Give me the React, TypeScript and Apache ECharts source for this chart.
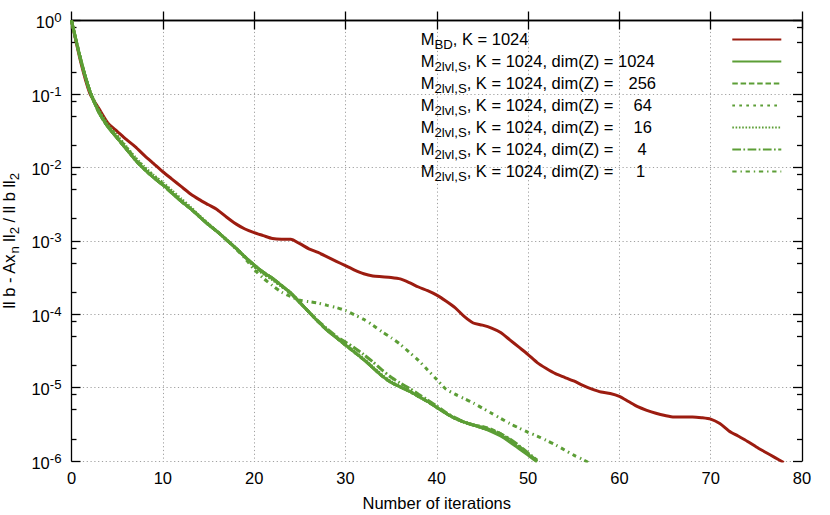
import React, { useEffect, useRef } from 'react';
import * as echarts from 'echarts';

// log10 of the relative residual ||b - Ax_n||_2 / ||b||_2, one value per iteration (0, 1, 2, ...)
const bdK1024 = [
  0, -0.56, -0.99, -1.20, -1.40, -1.51, -1.62, -1.72, -1.84, -1.95,
  -2.06, -2.16, -2.26, -2.36, -2.44, -2.51, -2.58, -2.68, -2.77, -2.84,
  -2.89, -2.93, -2.97, -2.98, -2.98, -3.04, -3.11, -3.16, -3.22, -3.28,
  -3.34, -3.40, -3.45, -3.48, -3.49, -3.50, -3.52, -3.57, -3.63, -3.68,
  -3.74, -3.82, -3.91, -4.03, -4.12, -4.15, -4.19, -4.25, -4.35, -4.45,
  -4.55, -4.66, -4.74, -4.81, -4.86, -4.91, -4.97, -5.02, -5.06, -5.08,
  -5.12, -5.19, -5.26, -5.31, -5.35, -5.38, -5.40, -5.40, -5.40, -5.41,
  -5.43, -5.49, -5.59, -5.66, -5.73, -5.81, -5.88, -5.95, -6.02,
];
const dim1024 = [
  0, -0.53, -0.96, -1.25, -1.45, -1.60, -1.75, -1.90, -2.03, -2.14,
  -2.24, -2.35, -2.46, -2.56, -2.67, -2.78, -2.88, -2.99, -3.10, -3.22,
  -3.33, -3.43, -3.51, -3.61, -3.71, -3.84, -3.97, -4.10, -4.22, -4.32,
  -4.42, -4.52, -4.62, -4.73, -4.84, -4.93, -4.99, -5.05, -5.12, -5.19,
  -5.27, -5.35, -5.42, -5.47, -5.51, -5.55, -5.60, -5.66, -5.74, -5.83,
  -5.92, -6.01,
];
const dim256 = [
  0, -0.53, -0.96, -1.25, -1.45, -1.60, -1.75, -1.90, -2.03, -2.14,
  -2.24, -2.35, -2.46, -2.56, -2.67, -2.78, -2.88, -2.99, -3.10, -3.22,
  -3.33, -3.43, -3.51, -3.61, -3.71, -3.84, -3.97, -4.10, -4.22, -4.32,
  -4.42, -4.52, -4.62, -4.73, -4.84, -4.93, -4.99, -5.05, -5.12, -5.19,
  -5.27, -5.35, -5.42, -5.47, -5.51, -5.53, -5.57, -5.63, -5.71, -5.80,
  -5.90, -6.00,
];
const dim64 = [
  0, -0.53, -0.96, -1.25, -1.43, -1.58, -1.73, -1.88, -2.01, -2.12,
  -2.22, -2.34, -2.45, -2.56, -2.67, -2.78, -2.88, -2.99, -3.10, -3.22,
  -3.34, -3.44, -3.52, -3.62, -3.72, -3.84, -3.97, -4.10, -4.22, -4.32,
  -4.42, -4.52, -4.62, -4.73, -4.84, -4.93, -4.99, -5.05, -5.12, -5.19,
  -5.27, -5.35, -5.42, -5.47, -5.51, -5.54, -5.58, -5.64, -5.72, -5.81,
  -5.91, -6.00,
];
const dim16 = [
  0, -0.52, -0.95, -1.22, -1.42, -1.57, -1.72, -1.87, -2.00, -2.11,
  -2.21, -2.32, -2.43, -2.54, -2.66, -2.77, -2.88, -2.99, -3.10, -3.22,
  -3.35, -3.45, -3.53, -3.62, -3.71, -3.84, -3.97, -4.10, -4.21, -4.31,
  -4.41, -4.51, -4.61, -4.72, -4.83, -4.92, -4.99, -5.05, -5.12, -5.19,
  -5.27, -5.35, -5.42, -5.47, -5.51, -5.55, -5.59, -5.65, -5.73, -5.82,
  -5.91, -6.01,
];
const dim4 = [
  0, -0.53, -0.96, -1.25, -1.45, -1.60, -1.75, -1.90, -2.03, -2.14,
  -2.24, -2.35, -2.46, -2.56, -2.67, -2.78, -2.88, -2.99, -3.10, -3.22,
  -3.33, -3.43, -3.51, -3.61, -3.71, -3.84, -3.97, -4.09, -4.20, -4.30,
  -4.38, -4.46, -4.55, -4.65, -4.76, -4.86, -4.94, -5.01, -5.09, -5.17,
  -5.25, -5.34, -5.41, -5.47, -5.51, -5.55, -5.58, -5.63, -5.70, -5.79,
  -5.89, -5.99,
];
const dim1 = [
  0, -0.53, -0.96, -1.25, -1.45, -1.60, -1.75, -1.90, -2.03, -2.14,
  -2.24, -2.35, -2.46, -2.56, -2.67, -2.78, -2.88, -2.99, -3.11, -3.24,
  -3.39, -3.51, -3.61, -3.70, -3.76, -3.81, -3.83, -3.85, -3.88, -3.91,
  -3.95, -4.01, -4.07, -4.15, -4.24, -4.32, -4.41, -4.52, -4.63, -4.76,
  -4.89, -5.02, -5.09, -5.15, -5.21, -5.28, -5.35, -5.42, -5.49, -5.55,
  -5.61, -5.66, -5.72, -5.78, -5.85, -5.92, -5.98, -6.05,
];

const xMin = 0;
const xMax = 80;
const xStep = 10;
const yExpMin = -6;
const yExpMax = 0;
const minorMantissas = [2, 5, 8];
const dimZLabels = ['1024', '256', '64', '16', '4', '1'];

const FONT = '"Liberation Sans", Arial, Helvetica, sans-serif';
const FS = 16.5;
const SFS = 13.2;
const RED = '#9c1c10';
const GREEN = '#5c9e36';

const seriesDefs = [
  { key: 'bd', data: bdK1024, color: RED, type: 'solid' as any },
  { key: 'z1024', data: dim1024, color: GREEN, type: 'solid' as any },
  { key: 'z256', data: dim256, color: GREEN, type: [5.5, 2.8] },
  { key: 'z64', data: dim64, color: GREEN, type: [2.7, 4.3] },
  { key: 'z16', data: dim16, color: GREEN, type: [1.6, 1.7] },
  { key: 'z4', data: dim4, color: GREEN, type: [8.7, 2.4, 1.7, 2.5] },
  { key: 'z1', data: dim1, color: GREEN, type: [4.3, 3.9, 1.4, 3.7] },
];

const numPad: Record<string, number> = { '1024': 0, '256': 10.5, '64': 15.5, '16': 15.5, '4': 19.5, '1': 18 };

function legendText(key: string): string {
  if (key === 'bd') return '{m|M}{s|BD}{m|, K = 1024}';
  const n = key.slice(1);
  return `{m|M}{s|2lvl,S}{m|, K = 1024, dim(Z) = }{n${n}|${n}}`;
}

const legendRich: Record<string, any> = {
  m: { fontFamily: FONT, fontSize: FS, lineHeight: 18, color: '#000', align: 'left' },
  s: { fontFamily: FONT, fontSize: SFS, lineHeight: 18, color: '#000', align: 'left', padding: [10.4, 0, 0, 0] },
};
dimZLabels.forEach((n) => {
  legendRich['n' + n] = {
    fontFamily: FONT, fontSize: FS, lineHeight: 18, color: '#000', align: 'left',
    padding: [0, 0, 0, numPad[n]],
  };
});

const tickRich = {
  b: { fontFamily: FONT, fontSize: FS, lineHeight: 20, color: '#000', align: 'left', padding: [3.2, 0, 0, 0] },
  p: { fontFamily: FONT, fontSize: SFS, lineHeight: 20, color: '#000', align: 'left', padding: [0, 0, 5.8, 0] },
};

const nameRich = {
  m: { fontFamily: FONT, fontSize: FS, lineHeight: 20, color: '#000', align: 'left' },
  s: { fontFamily: FONT, fontSize: SFS, lineHeight: 20, color: '#000', align: 'left', padding: [10.4, 0, 0, 0] },
};

const minorTickValues: number[] = [];
for (let e = yExpMin; e < yExpMax; e++) {
  minorMantissas.forEach((m) => minorTickValues.push(e + Math.log10(m)));
}

const gridLine = { show: true, lineStyle: { color: '#a0a0a0', width: 1, type: [1.2, 2.6] as any } };
const axisLineStyle = { show: true, lineStyle: { color: '#000', width: 1.3 } };

export default function App() {
  const ref = useRef<HTMLDivElement>(null);
  useEffect(() => {
    if (!ref.current) return;
    const chart = echarts.init(ref.current, undefined, { renderer: 'svg' });
    const yBase = { type: 'value', min: yExpMin, max: yExpMax, interval: 1 };
    const option: any = {
      animation: false,
      backgroundColor: '#fff',
      grid: { left: 71.5, right: 28, top: 20.5, bottom: 54, containLabel: false, outerBoundsMode: 'none' },
      legend: {
        orient: 'vertical', left: 420.7, top: 27.7, padding: 0, itemGap: -1.4,
        itemWidth: 49, itemHeight: 14, align: 'right', selectedMode: false,
        data: seriesDefs.map((d) => d.key),
        formatter: (name: string) => legendText(name),
        itemStyle: { opacity: 0, color: 'transparent', borderColor: 'transparent', borderWidth: 0 },
        textStyle: { width: 306.6, fontFamily: FONT, fontSize: FS, lineHeight: 18, color: '#000', rich: legendRich },
      },
      xAxis: [
        {
          type: 'value', min: xMin, max: xMax, interval: xStep, position: 'bottom',
          name: 'Number of iterations', nameLocation: 'middle', nameGap: 34,
          nameTextStyle: { fontFamily: FONT, fontSize: FS, color: '#000', lineHeight: 16.5 },
          axisLine: axisLineStyle,
          axisTick: { show: true, inside: true, length: 9, lineStyle: { color: '#000', width: 1.3 } },
          axisLabel: { show: true, margin: 8, fontFamily: FONT, fontSize: FS, color: '#000', lineHeight: 18 },
          splitLine: gridLine,
        },
        {
          type: 'value', min: xMin, max: xMax, interval: xStep, position: 'top',
          axisLine: axisLineStyle,
          axisTick: { show: true, inside: true, length: 9, lineStyle: { color: '#000', width: 1.3 } },
          axisLabel: { show: false }, splitLine: { show: false },
        },
      ],
      yAxis: [
        {
          ...yBase, position: 'left',
          name: '{m|ll b - Ax}{s|n}{m| ll}{s|2}{m| / ll b ll}{s|2}',
          nameLocation: 'middle', nameGap: 50, nameRotate: 90,
          nameTextStyle: { fontFamily: FONT, fontSize: FS, color: '#000', lineHeight: 20, rich: nameRich },
          axisLine: axisLineStyle,
          axisTick: { show: true, inside: true, length: 9, lineStyle: { color: '#000', width: 1.3 } },
          axisLabel: {
            show: true, margin: 10, rich: tickRich,
            formatter: (v: number) => `{b|10}{p|${v}}`,
          },
          splitLine: gridLine,
        },
        {
          ...yBase, position: 'left',
          axisLine: { show: false },
          axisTick: { show: true, inside: true, length: 5, customValues: minorTickValues, lineStyle: { color: '#000', width: 1.3 } },
          axisLabel: { show: false }, splitLine: { show: false },
        },
        {
          ...yBase, position: 'right',
          axisLine: axisLineStyle,
          axisTick: { show: true, inside: true, length: 9, lineStyle: { color: '#000', width: 1.3 } },
          axisLabel: { show: false }, splitLine: { show: false },
        },
        {
          ...yBase, position: 'right',
          axisLine: { show: false },
          axisTick: { show: true, inside: true, length: 5, customValues: minorTickValues, lineStyle: { color: '#000', width: 1.3 } },
          axisLabel: { show: false }, splitLine: { show: false },
        },
      ],
      series: seriesDefs.map((d) => ({
        name: d.key,
        type: 'line',
        xAxisIndex: 0,
        yAxisIndex: 0,
        data: d.data.map((v, i) => [i, v]),
        symbol: 'none',
        showSymbol: false,
        smooth: 0.25,
        clip: true,
        color: d.color,
        lineStyle: { color: d.color, width: 3, type: d.type },
      })),
    };
    chart.setOption(option);
    return () => chart.dispose();
  }, []);
  return <div ref={ref} style={{ position: 'fixed', left: 0, top: 0, width: 830, height: 515 }} />;
}
